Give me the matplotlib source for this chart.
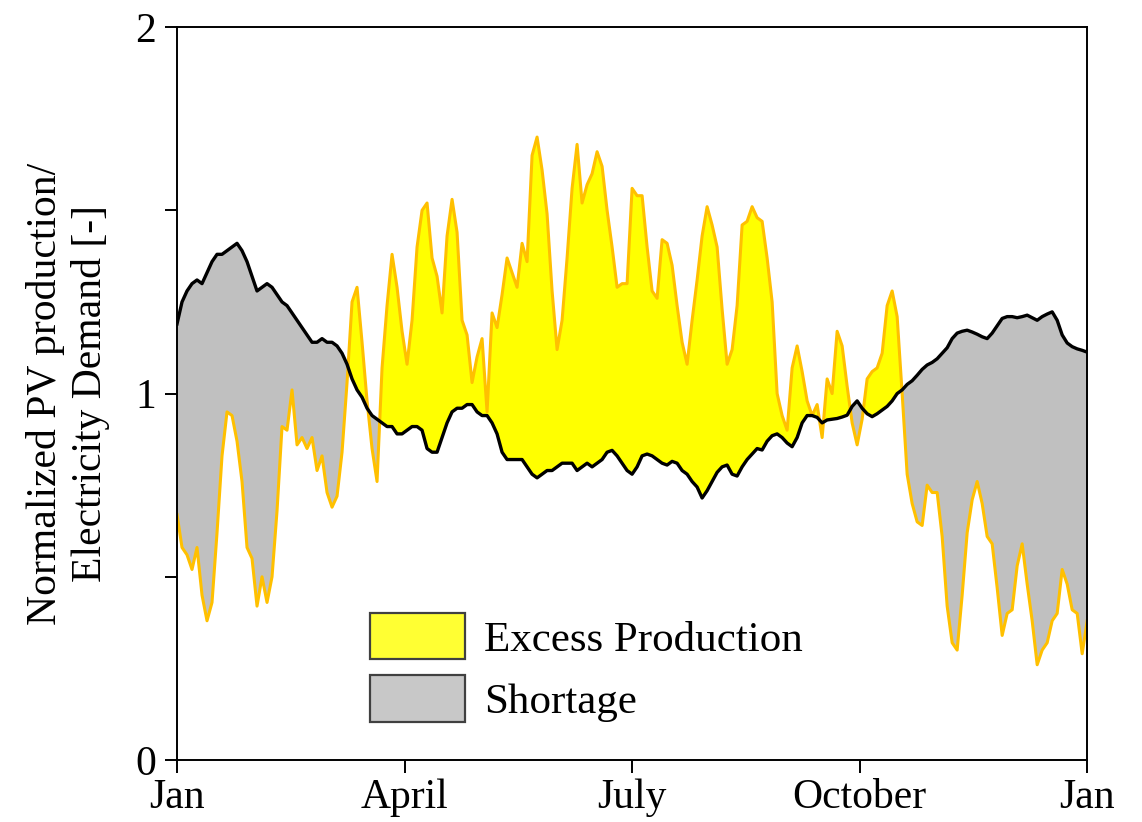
import numpy as np
import matplotlib
matplotlib.use("Agg")
import matplotlib.pyplot as plt
from matplotlib.patches import Patch

plt.rcParams['font.family'] = ['Liberation Serif', 'DejaVu Serif']

# day of year, sampled every 2 days
days = np.arange(0, 366, 2)

# normalized PV production
pv = [
    0.67, 0.58, 0.56, 0.52, 0.58, 0.45, 0.38, 0.43, 0.62, 0.83,
    0.95, 0.94, 0.87, 0.76, 0.58, 0.55, 0.42, 0.50, 0.43, 0.50,
    0.68, 0.91, 0.90, 1.01, 0.86, 0.88, 0.85, 0.88, 0.79, 0.83,
    0.73, 0.69, 0.72, 0.84, 1.03, 1.25, 1.29, 1.14, 0.98, 0.85,
    0.76, 1.07, 1.24, 1.38, 1.29, 1.17, 1.08, 1.20, 1.40, 1.50,
    1.52, 1.37, 1.32, 1.22, 1.43, 1.53, 1.44, 1.20, 1.16, 1.03,
    1.10, 1.15, 0.95, 1.22, 1.18, 1.27, 1.37, 1.33, 1.29, 1.41,
    1.36, 1.65, 1.70, 1.61, 1.49, 1.28, 1.12, 1.20, 1.37, 1.56,
    1.68, 1.52, 1.57, 1.60, 1.66, 1.62, 1.50, 1.40, 1.29, 1.30,
    1.30, 1.56, 1.54, 1.54, 1.40, 1.28, 1.26, 1.42, 1.41, 1.35,
    1.24, 1.14, 1.08, 1.20, 1.31, 1.43, 1.51, 1.46, 1.40, 1.23,
    1.08, 1.12, 1.24, 1.46, 1.47, 1.51, 1.48, 1.47, 1.37, 1.25,
    1.00, 0.94, 0.90, 1.07, 1.13, 1.06, 0.98, 0.94, 0.97, 0.88,
    1.04, 1.00, 1.17, 1.13, 1.02, 0.92, 0.86, 0.93, 1.04, 1.06,
    1.07, 1.11, 1.24, 1.28, 1.21, 1.00, 0.78, 0.70, 0.65, 0.64,
    0.75, 0.73, 0.73, 0.61, 0.42, 0.32, 0.30, 0.45, 0.62, 0.71,
    0.76, 0.70, 0.61, 0.59, 0.47, 0.34, 0.40, 0.41, 0.53, 0.59,
    0.48, 0.38, 0.26, 0.30, 0.32, 0.38, 0.40, 0.52, 0.48, 0.41,
    0.40, 0.29, 0.38,
]

# normalized electricity demand
demand = [
    1.19, 1.25, 1.28, 1.30, 1.31, 1.30, 1.33, 1.36, 1.38, 1.38,
    1.39, 1.40, 1.41, 1.39, 1.36, 1.32, 1.28, 1.29, 1.30, 1.29,
    1.27, 1.25, 1.24, 1.22, 1.20, 1.18, 1.16, 1.14, 1.14, 1.15,
    1.14, 1.14, 1.13, 1.11, 1.08, 1.04, 1.01, 0.99, 0.96, 0.94,
    0.93, 0.92, 0.91, 0.91, 0.89, 0.89, 0.90, 0.91, 0.91, 0.90,
    0.85, 0.84, 0.84, 0.88, 0.92, 0.95, 0.96, 0.96, 0.97, 0.97,
    0.95, 0.94, 0.94, 0.92, 0.89, 0.84, 0.82, 0.82, 0.82, 0.82,
    0.80, 0.78, 0.77, 0.78, 0.79, 0.79, 0.80, 0.81, 0.81, 0.81,
    0.79, 0.80, 0.81, 0.80, 0.81, 0.82, 0.84, 0.845, 0.83, 0.81,
    0.79, 0.78, 0.80, 0.83, 0.835, 0.83, 0.82, 0.81, 0.805, 0.815,
    0.81, 0.79, 0.78, 0.76, 0.745, 0.715, 0.735, 0.76, 0.785, 0.80,
    0.805, 0.78, 0.775, 0.80, 0.82, 0.835, 0.85, 0.846, 0.87, 0.885,
    0.89, 0.88, 0.865, 0.855, 0.88, 0.92, 0.94, 0.94, 0.935, 0.92,
    0.928, 0.93, 0.932, 0.936, 0.941, 0.965, 0.98, 0.96, 0.945, 0.937,
    0.945, 0.955, 0.965, 0.98, 1.00, 1.01, 1.025, 1.035, 1.05, 1.066,
    1.078, 1.085, 1.095, 1.11, 1.125, 1.15, 1.165, 1.17, 1.173, 1.168,
    1.162, 1.155, 1.15, 1.165, 1.185, 1.205, 1.21, 1.21, 1.207, 1.21,
    1.214, 1.207, 1.20, 1.21, 1.217, 1.223, 1.20, 1.16, 1.138, 1.128,
    1.122, 1.118, 1.113,
]

month_ticks = [0, 91, 182, 273, 364]
month_labels = ['Jan', 'April', 'July', 'October', 'Jan']

pv = np.array(pv)
demand = np.array(demand)

fig = plt.figure(figsize=(11.42, 8.22), dpi=100)
ax = fig.add_axes([0.155, 0.0754, 0.797, 0.8916])

ax.fill_between(days, pv, demand, where=pv >= demand, interpolate=True,
                facecolor='#ffff00', edgecolor='none', zorder=1)
ax.fill_between(days, pv, demand, where=pv <= demand, interpolate=True,
                facecolor='#c0c0c0', edgecolor='none', zorder=1)
ax.plot(days, pv, color='#ffc000', lw=2.2, zorder=2)
ax.plot(days, demand, color='black', lw=2.4, zorder=3)

ax.set_xlim(0, 364)
ax.set_ylim(0, 2)
ax.set_xticks(month_ticks)
ax.set_xticklabels(month_labels)
ax.set_yticks([0, 1, 2])
ax.set_yticks([0.5, 1.5], minor=True)
ax.tick_params(axis='both', which='both', direction='out', length=9,
               width=1.4, labelsize=30)
ax.tick_params(axis='x', pad=4)
ax.tick_params(axis='y', pad=6)
for sp in ax.spines.values():
    sp.set_linewidth(1.4)

ax.set_ylabel('Normalized PV production/\nElectricity Demand [-]',
              fontsize=30, labelpad=18)

handles = [Patch(facecolor='#ffff33', edgecolor='#404040', lw=1.6),
           Patch(facecolor='#c8c8c8', edgecolor='#404040', lw=1.6)]
ax.legend(handles, ['Excess Production', 'Shortage'], loc='lower left',
          bbox_to_anchor=(0.212, 0.052), frameon=False, fontsize=31,
          handlelength=2.2, handleheight=1.27, labelspacing=0.36,
          handletextpad=0.46, borderpad=0, borderaxespad=0)

fig.savefig('out.png', dpi=100)
